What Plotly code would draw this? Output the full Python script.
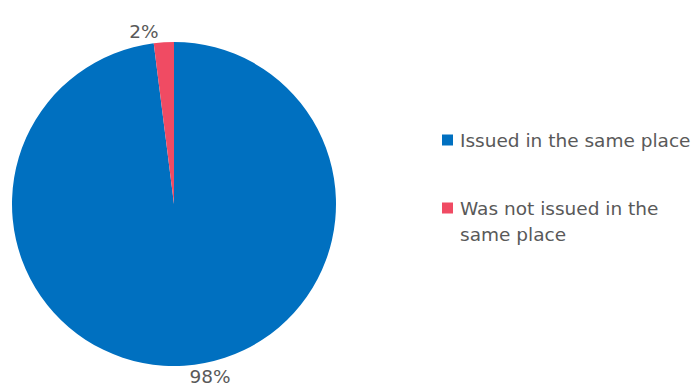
import plotly.graph_objects as go

# Share of documents by place of issue
labels = ["Issued in the same place", "Was not issued in the same place"]
legend_lines = [["Issued in the same place"], ["Was not issued in the", "same place"]]
values = [98, 2]
colors = ["#0070C0", "#F04B63"]

W, H = 698, 391
text_color = "#595959"
font_family = "DejaVu Sans, Verdana, sans-serif"

fig = go.Figure(
    go.Pie(
        labels=labels,
        values=values,
        sort=False,
        direction="clockwise",
        rotation=0,
        marker=dict(colors=colors, line=dict(width=0)),
        textinfo="percent",
        texttemplate="%{percent:.0%}",
        textposition="outside",
        outsidetextfont=dict(color=text_color, size=18.5, family=font_family),
        showlegend=False,
        hoverinfo="label+percent",
        domain=dict(x=[12 / W, 336 / W], y=[(H - 366) / H, (H - 42) / H]),
    )
)

# Legend drawn as square swatches with wrapped labels
annotations = []
shapes = []
item_centers = [140, 208]
line_gap = 26
sw = 11
for lines, color, yc in zip(legend_lines, colors, item_centers):
    shapes.append(dict(
        type="rect", xref="paper", yref="paper",
        x0=442 / W, x1=(442 + sw) / W,
        y0=(H - yc - sw / 2) / H, y1=(H - yc + sw / 2) / H,
        fillcolor=color, line=dict(width=0),
    ))
    for i, ln in enumerate(lines):
        annotations.append(dict(
            text=ln, xref="paper", yref="paper",
            x=458 / W, y=(H - yc - i * line_gap) / H,
            xanchor="left", yanchor="middle", showarrow=False,
            font=dict(color=text_color, size=18.5, family=font_family),
        ))

fig.update_layout(
    width=W, height=H,
    margin=dict(l=0, r=0, t=0, b=0),
    paper_bgcolor="white", plot_bgcolor="white",
    annotations=annotations, shapes=shapes,
)

fig.write_html("out.html")
